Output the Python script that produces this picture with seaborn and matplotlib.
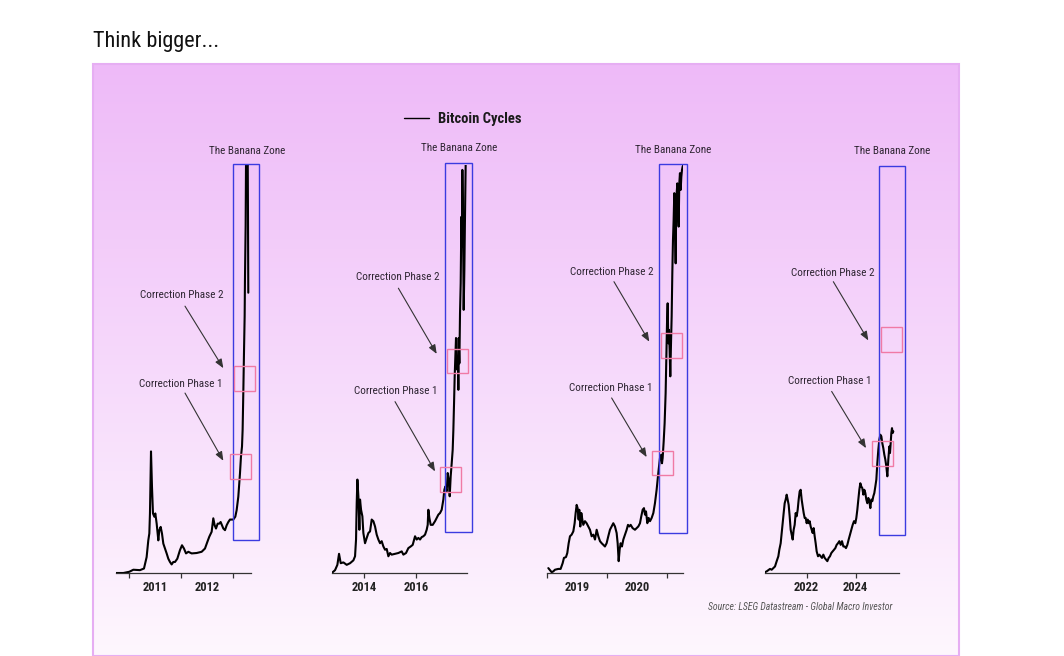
import matplotlib
matplotlib.use("Agg")
import matplotlib.pyplot as plt
import matplotlib.patches as mpatches
from matplotlib.lines import Line2D
import numpy as np
import pandas as pd
import seaborn as sns

# ---------------- data (year fraction, normalised level 0-100 of each cycle panel) ----------------
cycle1 = [(2010.744, 0.0), (2010.885, 0.0), (2011.000, 0.3), (2011.077, 0.8), (2011.205, 0.7),
          (2011.282, 1.1), (2011.333, 3.9), (2011.365, 8.0), (2011.385, 9.7), (2011.397, 14.6),
          (2011.417, 29.8), (2011.436, 21.1), (2011.455, 14.6), (2011.481, 13.8), (2011.500, 14.6),
          (2011.526, 12.1), (2011.558, 8.0), (2011.577, 10.5), (2011.603, 11.3), (2011.628, 9.7),
          (2011.654, 7.2), (2011.686, 6.0), (2011.718, 4.8), (2011.750, 3.5), (2011.782, 2.7),
          (2011.814, 2.1), (2011.846, 2.7), (2011.878, 2.7), (2011.923, 3.5), (2011.974, 5.6),
          (2012.013, 6.8), (2012.051, 6.0), (2012.090, 4.8), (2012.135, 5.2), (2012.199, 4.8),
          (2012.295, 4.9), (2012.391, 5.2), (2012.455, 6.0), (2012.500, 7.6), (2012.538, 8.9),
          (2012.583, 10.1), (2012.615, 13.4), (2012.641, 11.7), (2012.667, 10.9), (2012.699, 12.1),
          (2012.731, 12.1), (2012.756, 12.5), (2012.782, 11.7), (2012.808, 10.9), (2012.840, 10.5),
          (2012.872, 11.7), (2012.904, 12.5), (2012.936, 13.1), (2013.000, 13.1), (2013.038, 13.8),
          (2013.064, 15.4), (2013.096, 18.7), (2013.128, 24.4), (2013.147, 28.5), (2013.167, 31.0),
          (2013.179, 35.1), (2013.192, 44.1), (2013.205, 53.9), (2013.218, 63.0), (2013.224, 72.0),
          (2013.237, 85.1), (2013.244, 100.2), (2013.250, 120.0), (2013.263, 99.8), (2013.269, 124.0),
          (2013.282, 87.5), (2013.288, 68.7)]

cycle2 = [(2012.795, 0.2), (2012.885, 0.7), (2012.974, 2.0), (2013.038, 4.7), (2013.103, 2.4),
          (2013.205, 2.6), (2013.333, 2.0), (2013.462, 2.4), (2013.590, 3.1), (2013.654, 4.1),
          (2013.692, 8.2), (2013.718, 17.1), (2013.744, 22.9), (2013.782, 18.8), (2013.821, 10.6),
          (2013.846, 18.0), (2013.885, 15.5), (2013.936, 13.9), (2013.974, 9.8), (2014.038, 7.3),
          (2014.103, 8.6), (2014.167, 9.8), (2014.231, 10.2), (2014.295, 13.1), (2014.359, 12.7),
          (2014.423, 11.4), (2014.487, 9.4), (2014.551, 8.2), (2014.615, 7.3), (2014.679, 7.8),
          (2014.744, 6.5), (2014.808, 5.7), (2014.872, 5.9), (2014.936, 4.1), (2015.000, 4.9),
          (2015.064, 4.5), (2015.192, 4.7), (2015.321, 4.9), (2015.449, 5.3), (2015.513, 4.5),
          (2015.615, 4.9), (2015.705, 6.1), (2015.795, 6.5), (2015.872, 6.9), (2015.962, 9.0),
          (2016.026, 8.2), (2016.090, 8.6), (2016.154, 8.2), (2016.218, 8.8), (2016.282, 9.0),
          (2016.346, 9.4), (2016.410, 10.6), (2016.449, 11.8), (2016.474, 15.5), (2016.513, 13.5),
          (2016.564, 11.8), (2016.641, 11.8), (2016.731, 12.7), (2016.795, 13.5), (2016.859, 14.3),
          (2016.923, 14.7), (2016.987, 15.5), (2017.051, 18.0), (2017.090, 20.4), (2017.128, 21.2),
          (2017.179, 20.0), (2017.218, 24.5), (2017.256, 22.9), (2017.295, 18.8), (2017.333, 23.7),
          (2017.372, 26.9), (2017.410, 30.2), (2017.436, 35.1), (2017.462, 41.6), (2017.487, 48.2),
          (2017.513, 53.1), (2017.538, 57.6), (2017.564, 51.4), (2017.590, 49.8), (2017.615, 52.2),
          (2017.628, 44.9), (2017.641, 57.6), (2017.667, 51.4), (2017.692, 63.7), (2017.718, 71.0),
          (2017.744, 87.3), (2017.769, 80.0), (2017.782, 98.8), (2017.808, 84.1), (2017.833, 64.5),
          (2017.859, 74.3), (2017.885, 88.2), (2017.910, 100.4), (2017.936, 103.7)]

cycle3 = [(2019.017, 1.2), (2019.045, 0.7), (2019.073, 0.2), (2019.101, 0.4), (2019.128, 0.8),
          (2019.184, 1.0), (2019.223, 1.0), (2019.257, 2.4), (2019.279, 3.7), (2019.313, 3.9),
          (2019.335, 4.9), (2019.358, 7.3), (2019.380, 9.0), (2019.408, 9.4), (2019.436, 10.2),
          (2019.458, 12.2), (2019.475, 14.7), (2019.492, 16.7), (2019.508, 15.9), (2019.525, 13.1),
          (2019.536, 15.5), (2019.553, 11.4), (2019.570, 14.7), (2019.587, 13.1), (2019.603, 11.8),
          (2019.631, 12.7), (2019.659, 12.2), (2019.687, 11.4), (2019.715, 10.6), (2019.743, 9.0),
          (2019.771, 9.4), (2019.799, 8.2), (2019.827, 10.6), (2019.855, 9.0), (2019.883, 7.8),
          (2019.911, 7.3), (2019.939, 6.9), (2019.966, 6.5), (2019.994, 7.3), (2020.022, 9.0),
          (2020.050, 10.6), (2020.078, 11.4), (2020.106, 12.2), (2020.134, 11.4), (2020.162, 9.8),
          (2020.179, 7.3), (2020.196, 2.9), (2020.212, 5.7), (2020.229, 7.3), (2020.251, 6.5),
          (2020.274, 8.2), (2020.302, 9.4), (2020.330, 10.6), (2020.352, 11.8), (2020.374, 11.4),
          (2020.397, 11.8), (2020.430, 11.0), (2020.469, 10.6), (2020.497, 11.0), (2020.525, 11.4),
          (2020.553, 12.2), (2020.575, 13.9), (2020.598, 15.5), (2020.620, 15.9), (2020.637, 14.3),
          (2020.654, 15.1), (2020.676, 12.2), (2020.698, 13.5), (2020.721, 12.7), (2020.749, 13.5),
          (2020.777, 14.7), (2020.804, 17.1), (2020.832, 20.4), (2020.849, 22.9), (2020.866, 25.3),
          (2020.888, 28.2), (2020.911, 29.0), (2020.922, 26.9), (2020.933, 28.2), (2020.950, 32.2),
          (2020.966, 36.7), (2020.983, 44.1), (2020.994, 52.2), (2021.006, 61.2), (2021.017, 66.1),
          (2021.028, 56.3), (2021.039, 59.6), (2021.050, 54.7), (2021.061, 48.2), (2021.073, 56.3),
          (2021.084, 62.9), (2021.095, 73.5), (2021.106, 81.6), (2021.117, 86.5), (2021.128, 93.1),
          (2021.140, 85.7), (2021.151, 75.9), (2021.156, 84.1), (2021.168, 93.1), (2021.179, 95.5),
          (2021.190, 92.2), (2021.201, 84.9), (2021.212, 95.5), (2021.223, 98.0), (2021.235, 93.9),
          (2021.246, 97.1), (2021.257, 98.8), (2021.268, 99.6), (2021.279, 100.0)]

cycle4 = [(2020.299, 0.2), (2020.367, 0.4), (2020.435, 0.7), (2020.503, 1.0), (2020.571, 0.8),
          (2020.639, 1.2), (2020.707, 1.6), (2020.776, 2.9), (2020.844, 4.1), (2020.884, 5.7),
          (2020.939, 7.3), (2020.980, 9.8), (2021.020, 12.2), (2021.061, 14.7), (2021.102, 17.1),
          (2021.143, 18.0), (2021.184, 19.2), (2021.224, 18.0), (2021.265, 16.7), (2021.306, 13.9),
          (2021.347, 10.6), (2021.388, 9.4), (2021.429, 8.2), (2021.469, 10.6), (2021.510, 11.8),
          (2021.551, 14.7), (2021.592, 13.9), (2021.633, 15.5), (2021.673, 18.0), (2021.714, 20.0),
          (2021.755, 20.4), (2021.796, 18.0), (2021.837, 16.3), (2021.878, 14.7), (2021.918, 13.5),
          (2021.959, 13.5), (2022.000, 12.2), (2022.041, 13.1), (2022.082, 12.2), (2022.122, 12.7),
          (2022.163, 11.4), (2022.204, 10.6), (2022.245, 9.8), (2022.286, 11.0), (2022.327, 9.0),
          (2022.367, 7.3), (2022.408, 5.3), (2022.463, 4.1), (2022.517, 4.5), (2022.571, 4.1),
          (2022.626, 3.7), (2022.680, 4.5), (2022.735, 3.7), (2022.789, 3.3), (2022.844, 2.9),
          (2022.898, 3.7), (2022.952, 4.1), (2023.007, 4.9), (2023.061, 5.3), (2023.116, 5.7),
          (2023.170, 6.1), (2023.224, 6.9), (2023.279, 7.3), (2023.333, 7.8), (2023.388, 6.9),
          (2023.442, 7.8), (2023.497, 6.5), (2023.551, 6.5), (2023.605, 6.1), (2023.660, 6.9),
          (2023.714, 8.2), (2023.769, 9.4), (2023.823, 10.6), (2023.878, 11.8), (2023.932, 12.7),
          (2023.986, 12.2), (2024.027, 13.5), (2024.068, 15.5), (2024.109, 18.0), (2024.150, 20.4),
          (2024.190, 22.0), (2024.231, 21.2), (2024.272, 20.8), (2024.313, 19.2), (2024.354, 20.4),
          (2024.395, 19.6), (2024.435, 18.0), (2024.476, 17.1), (2024.517, 18.4), (2024.558, 17.6),
          (2024.599, 15.9), (2024.639, 18.0), (2024.680, 17.6), (2024.721, 18.8), (2024.762, 19.6),
          (2024.803, 21.2), (2024.844, 22.9), (2024.884, 26.9), (2024.925, 30.2), (2024.966, 32.7),
          (2025.007, 33.9), (2025.048, 33.5), (2025.088, 31.8), (2025.129, 30.6), (2025.170, 29.0),
          (2025.211, 27.8), (2025.252, 26.1), (2025.293, 23.7), (2025.333, 27.8), (2025.374, 31.0),
          (2025.401, 29.4), (2025.429, 31.8), (2025.456, 34.3), (2025.483, 35.5), (2025.510, 34.3),
          (2025.537, 34.7)]

# tick labels
ticks1_major, ticks1_labels, ticks1_minor = [2011, 2012, 2013], ["2011", "2012"], [2011.5, 2012.5]
ticks2_major, ticks2_labels = [2014, 2016], ["2014", "2016"]
ticks3_major, ticks3_labels, ticks3_minor = [2019, 2020, 2021], ["2019", "2020"], [2019.5, 2020.5]
ticks4_major, ticks4_labels = [2022, 2024], ["2022", "2024"]

TITLE = "Think bigger..."
LEGEND = "Bitcoin Cycles"
ZONE = "The Banana Zone"
CP1 = "Correction Phase 1"
CP2 = "Correction Phase 2"
SOURCE = "Source: LSEG Datastream - Global Macro Investor"

# ---------------- style ----------------
sns.set_theme(style="white")
plt.rcParams['font.family'] = ['Roboto Condensed', 'Liberation Sans', 'DejaVu Sans']

W, H = 1064, 656
fig = plt.figure(figsize=(W / 100, H / 100), dpi=100)
fig.patch.set_facecolor('white')

# gradient background panel
bg = fig.add_axes([92.7 / W, 1 - 655.5 / H, (959.5 - 92.7) / W, (655.5 - 64) / H])
bg.set_zorder(0)
grad = np.linspace(0, 1, 256)[:, None, None]
c_top = np.array([238, 186, 248]) / 255
c_bot = np.array([254, 247, 254]) / 255
img = c_top + (c_bot - c_top) * grad
bg.imshow(img, aspect='auto', extent=[0, 1, 0, 1], origin='upper')
bg.set_xlim(0, 1)
bg.set_ylim(0, 1)
bg.axis('off')
bg.add_patch(mpatches.Rectangle((0, 0), 1, 1, fill=False, edgecolor='#E6AEF3', lw=1.5,
                                transform=bg.transAxes, clip_on=False))

TXT = '#2f2633'
BLUE = '#3B3BE0'
PINK = '#F07AA5'


def panel(left_px, right_px, data, xlim, major, labels_major, minor, labels_minor,
          blue, pinks, zone_xy, cp2, cp1):
    ax = fig.add_axes([left_px / W, 1 - 573 / H, (right_px - left_px) / W, 408 / H])
    ax.set_zorder(2)
    ax.patch.set_alpha(0)
    df = pd.DataFrame(data, columns=['year', 'level'])
    sns.lineplot(data=df, x='year', y='level', ax=ax, color='black', lw=1.5,
                 estimator=None, sort=False)
    ax.set_xlim(*xlim)
    ax.set_ylim(0, 100)
    for s in ['top', 'right', 'left']:
        ax.spines[s].set_visible(False)
    ax.spines['bottom'].set_color('#333333')
    ax.spines['bottom'].set_linewidth(0.9)
    ax.set_yticks([])
    ax.set_xlabel('')
    ax.set_ylabel('')
    ax.set_xticks(major)
    ax.set_xticklabels(labels_major)
    if minor:
        ax.set_xticks(minor, minor=True)
        ax.set_xticklabels(labels_minor, minor=True)
    ax.tick_params(axis='x', which='major', bottom=True, length=3.4, width=0.9,
                   color='#333333', pad=2.5, labelsize=9, labelcolor='#222222')
    ax.tick_params(axis='x', which='minor', bottom=True, length=0, pad=5.9,
                   labelsize=9, labelcolor='#222222')
    for lab in ax.get_xticklabels(which='both'):
        lab.set_fontweight('bold')

    x0, x1, y0, y1 = blue
    ax.add_patch(mpatches.Rectangle((x0, y0), x1 - x0, y1 - y0, fill=False,
                                    edgecolor=BLUE, lw=1.0, clip_on=False, zorder=3))
    for (px0, px1, py0, py1) in pinks:
        ax.add_patch(mpatches.Rectangle((px0, py0), px1 - px0, py1 - py0, fill=False,
                                        edgecolor=PINK, lw=1.0, clip_on=False, zorder=3))
    ax.text(zone_xy[0], zone_xy[1], ZONE, ha='center', va='center', fontsize=8,
            color=TXT, clip_on=False)
    for label, (tx, ty, sx, sy, ex, ey) in ((CP2, cp2), (CP1, cp1)):
        ax.text(tx, ty, label, ha='center', va='center', fontsize=8, color=TXT, clip_on=False)
        ax.annotate('', xy=(ex, ey), xytext=(sx, sy), annotation_clip=False,
                    arrowprops=dict(arrowstyle='-|>,head_length=0.45,head_width=0.18',
                                    color='#333333', lw=0.8, shrinkA=0, shrinkB=0))
    return ax


ax1 = panel(116, 251, cycle1, (2010.744, 2013.34), ticks1_major, ["", "", ""],
            ticks1_minor, ticks1_labels,
            (2012.987, 2013.500, 8.2, 100.2),
            [(2012.942, 2013.340, 23.0, 29.1), (2013.013, 2013.423, 44.5, 50.7)],
            (2013.276, 103.5),
            (2012.006, 68.1, 2012.071, 65.4, 2012.808, 50.2),
            (2011.987, 46.3, 2012.071, 44.1, 2012.808, 27.5))

ax2 = panel(331.7, 466.7, cycle2, (2012.756, 2017.949), ticks2_major, ticks2_labels,
            None, None,
            (2017.128, 2018.167, 10.0, 100.4),
            [(2016.923, 2017.718, 19.8, 26.0), (2017.205, 2017.987, 49.0, 55.0)],
            (2017.641, 104.1),
            (2015.282, 72.6, 2015.321, 69.8, 2016.795, 53.7),
            (2015.205, 44.7, 2015.192, 42.0, 2016.731, 24.9))

ax3 = panel(547.3, 683.3, cycle3, (2019.0, 2021.279), ticks3_major, ["", "", ""],
            ticks3_minor, ticks3_labels,
            (2020.877, 2021.335, 9.8, 100.2),
            [(2020.749, 2021.101, 24.0, 30.0), (2020.911, 2021.251, 52.6, 58.8)],
            (2021.112, 103.7),
            (2020.089, 73.7, 2020.117, 71.4, 2020.709, 56.7),
            (2020.061, 45.3, 2020.078, 42.9, 2020.665, 28.4))

ax4 = panel(765, 899, cycle4, (2020.299, 2025.769), ticks4_major, ticks4_labels,
            None, None,
            (2024.939, 2026.027, 9.3, 99.8),
            [(2024.667, 2025.510, 26.2, 32.3), (2025.034, 2025.878, 54.1, 60.2)],
            (2025.510, 103.5),
            (2023.061, 73.5, 2023.088, 71.4, 2024.517, 57.0),
            (2022.952, 47.1, 2023.020, 44.5, 2024.422, 30.6))

# legend
handle = Line2D([], [], color='black', lw=1.0)
leg = fig.legend([handle], [LEGEND], loc='center left', bbox_to_anchor=(404 / W, 1 - 119 / H),
                 frameon=False, borderpad=0, borderaxespad=0, handlelength=1.7,
                 handletextpad=0.6, prop={'weight': 'bold', 'size': 10.5})
for t in leg.get_texts():
    t.set_color('#1a1a1a')

# title and source
fig.text(93 / W, 1 - 47.3 / H, TITLE, ha='left', va='baseline', fontsize=16, color='#111111')
fig.text(708.3 / W, 1 - 606.7 / H, SOURCE, ha='left', va='center', fontsize=7.0,
         style='italic', color='#555555')

fig.savefig('out.png', dpi=100, facecolor='white')
